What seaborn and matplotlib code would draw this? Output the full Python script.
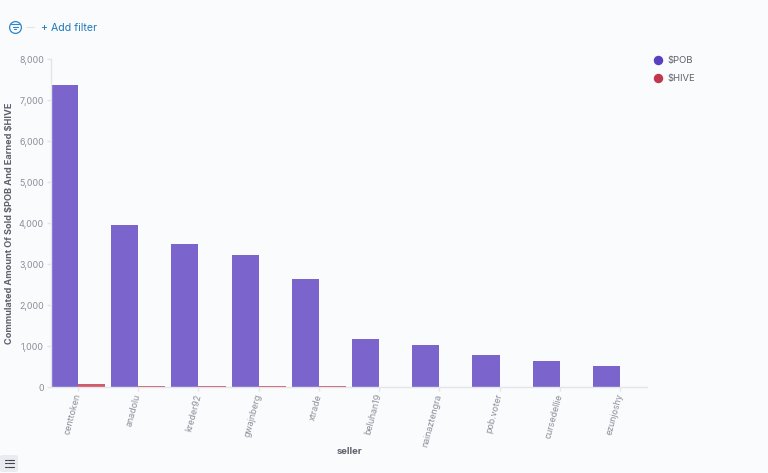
import matplotlib
matplotlib.use("Agg")
import matplotlib.pyplot as plt
from matplotlib.patches import FancyBboxPatch
from matplotlib.lines import Line2D
import seaborn as sns
import pandas as pd

sellers = ["centtoken", "anadolu", "kreder92", "gwajnberg", "xtrade",
           "beluhan19", "nainaztengra", "pob.voter", "cursedellie", "ezunjoshy"]
pob_values = [7370, 3940, 3500, 3230, 2640, 1170, 1030, 790, 640, 510]
hive_values = [70, 35, 25, 22, 15, 5, 4, 3, 2, 2]
y_ticks = [0, 1000, 2000, 3000, 4000, 5000, 6000, 7000, 8000]

BG = "#FAFBFD"
W, H = 768, 473
sns.set_theme(style="white")
plt.rcParams["font.family"] = ["Inter", "DejaVu Sans"]
plt.rcParams["text.parse_math"] = False

df = pd.DataFrame({
    "seller": sellers * 2,
    "value": pob_values + hive_values,
    "series": ["$POB"] * len(sellers) + ["$HIVE"] * len(sellers),
})

fig = plt.figure(figsize=(W / 100, H / 100), dpi=100, facecolor=BG)
ax = fig.add_axes([51 / W, 1 - 387 / H, (647 - 51) / W, (387 - 59) / H], facecolor=BG)

sns.barplot(data=df, x="seller", y="value", hue="series", order=sellers,
            hue_order=["$POB", "$HIVE"], palette={"$POB": "#7B64CC", "$HIVE": "#D0596A"},
            width=0.9, gap=0, saturation=1, legend=False, ax=ax, linewidth=0)

ax.set_xlim(-0.45, 9.45)
ax.set_ylim(0, 8000)
ax.set_yticks(y_ticks)
ax.set_yticklabels([f"{v:,}" for v in y_ticks])
for s in ("top", "right"):
    ax.spines[s].set_visible(False)
for s in ("left", "bottom"):
    ax.spines[s].set_color("#E4E5EA")
    ax.spines[s].set_linewidth(1)
ax.tick_params(axis="both", length=3, width=1, color="#E4E5EA",
               labelcolor="#8A8E99", labelsize=6.4, pad=2, bottom=True, left=True)
ax.set_xticks(range(len(sellers)))
ax.set_xticklabels(sellers, rotation=75, ha="right", va="center", rotation_mode="anchor")
ax.tick_params(axis="x", pad=2)
ax.set_xlabel("seller", fontsize=6.8, fontweight="bold", color="#5E616C")
ax.xaxis.set_label_coords((349 - 51) / (647 - 51), -(451 - 387) / (387 - 59), transform=ax.transAxes)
ax.xaxis.label.set_va("center")
ax.set_ylabel("Commulated Amount Of Sold $POB And Earned $HIVE", fontsize=6.6,
              fontweight="bold", color="#5E616C")
ax.yaxis.set_label_coords((10 - 51) / (647 - 51), (387 - 223) / (387 - 59), transform=ax.transAxes)
ax.yaxis.label.set_va("center")
ax.yaxis.label.set_ha("center")


def fx(x):
    return x / W


def fy(y):
    return 1 - y / H


# legend
for y, col, lab in [(60.5, "#5A3FC0", "$POB"), (78.5, "#C0394B", "$HIVE")]:
    fig.add_artist(Line2D([fx(658)], [fy(y)], marker="o", ms=6.8, color=col,
                          mew=0, ls="none", transform=fig.transFigure))
    fig.text(fx(667), fy(y), lab, fontsize=6.8, color="#5E616C", va="center", ha="left")

# filter bar
blue = "#2E86C8"
fig.add_artist(Line2D([fx(15)], [fy(27)], marker="o", ms=8.5, mfc="none", mec=blue, mew=0.9,
                      ls="none", transform=fig.transFigure))
for y, a, b in [(24.5, 11, 19), (27, 12.5, 17.5), (29.5, 14, 16)]:
    fig.add_artist(Line2D([fx(a), fx(b)], [fy(y), fy(y)], color=blue, lw=0.8,
                          transform=fig.transFigure))
fig.add_artist(Line2D([fx(26), fx(34)], [fy(27), fy(27)], color="#E4E5EA", lw=0.8,
                      transform=fig.transFigure))
fig.text(fx(41), fy(28), "+ Add filter", fontsize=7.6, color="#1F78B8", va="center", ha="left")

# legend toggle button
fig.add_artist(FancyBboxPatch((fx(0), fy(472)), 18 / W, 17 / H,
                              boxstyle="round,pad=0,rounding_size=0.004",
                              transform=fig.transFigure, fc="#E9EBF0", ec="none"))
for y in (459.5, 463, 466.5):
    fig.add_artist(Line2D([fx(5), fx(6.5)], [fy(y), fy(y)], color="#3F4350", lw=0.8,
                          transform=fig.transFigure))
    fig.add_artist(Line2D([fx(8), fx(14)], [fy(y), fy(y)], color="#3F4350", lw=0.8,
                          transform=fig.transFigure))

fig.savefig("out.png", dpi=100, facecolor=BG)
